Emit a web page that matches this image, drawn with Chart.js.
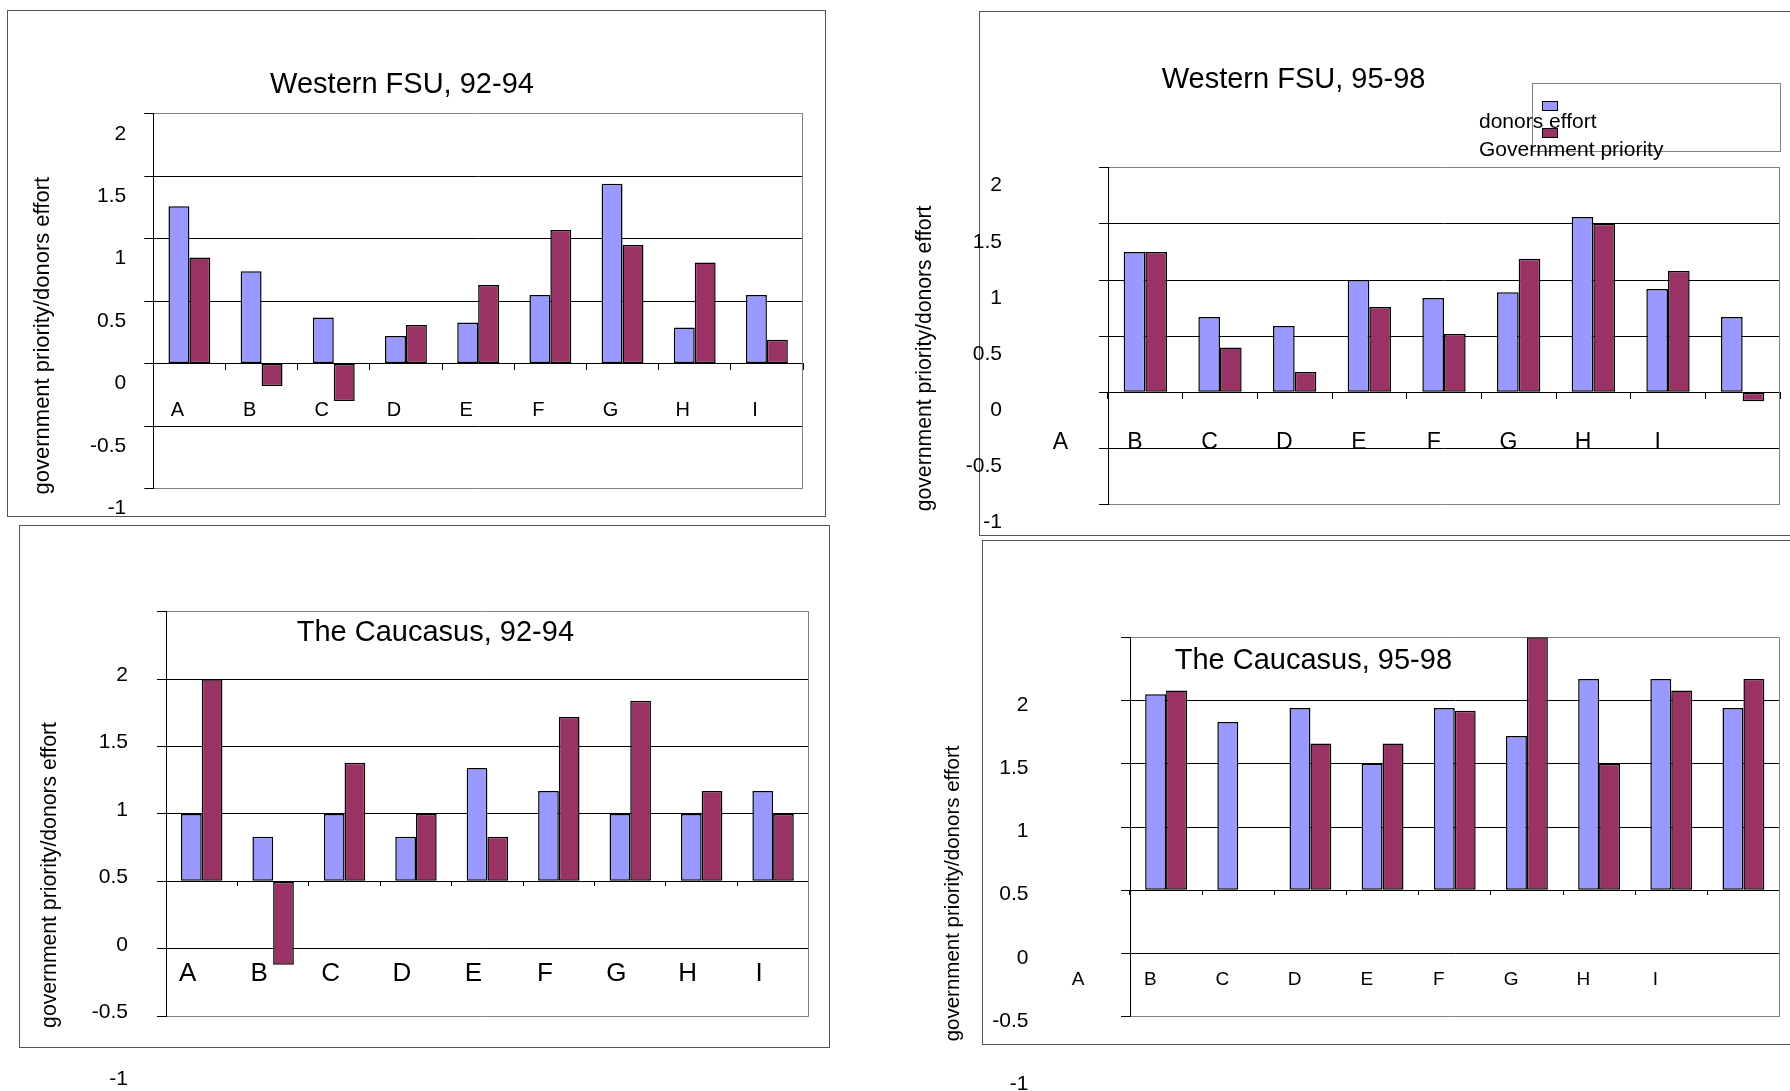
<!DOCTYPE html>
<html>
<head>
<meta charset="utf-8">
<script src="https://cdn.jsdelivr.net/npm/chart.js@4.4.1/dist/chart.umd.min.js"></script>
<style>
  html, body { margin: 0; padding: 0; background: #fff; width: 1790px; height: 1091px; overflow: hidden; position: relative; }
  .frame { position: absolute; border: 1px solid #555; box-sizing: border-box; }
  canvas { position: absolute; }
</style>
</head>
<body>
<div class="frame" style="left:7px;top:10px;width:819px;height:507px"></div>
<div class="frame" style="left:979px;top:11px;width:830px;height:525px"></div>
<div class="frame" style="left:19px;top:525px;width:811px;height:523px"></div>
<div class="frame" style="left:982px;top:540px;width:830px;height:505px"></div>

<canvas id="wfsu9294"></canvas>
<canvas id="wfsu9598"></canvas>
<canvas id="cauc9294"></canvas>
<canvas id="cauc9598"></canvas>

<script>
// ---- data ----
const categories = ['A', 'B', 'C', 'D', 'E', 'F', 'G', 'H', 'I'];
const seriesNames = ['donors effort', 'Government priority'];
const yTickValues = [-1, -0.5, 0, 0.5, 1, 1.5, 2];
const yTickLabels = ['-1', '-0.5', '0', '0.5', '1', '1.5', '2'];

const wfsu9294Donors = [1.26, 0.74, 0.37, 0.22, 0.33, 0.55, 1.44, 0.29, 0.55];
const wfsu9294Gov    = [0.85, -0.18, -0.30, 0.31, 0.63, 1.07, 0.95, 0.81, 0.19];

const wfsu9598Donors = [1.25, 0.67, 0.59, 1.00, 0.84, 0.89, 1.56, 0.92, 0.67];
const wfsu9598Gov    = [1.25, 0.40, 0.18, 0.76, 0.52, 1.19, 1.50, 1.08, -0.08];

const cauc9294Donors = [0.50, 0.33, 0.50, 0.33, 0.84, 0.67, 0.50, 0.50, 0.67];
const cauc9294Gov    = [1.50, -0.62, 0.88, 0.50, 0.33, 1.22, 1.34, 0.67, 0.50];

const cauc9598Donors = [1.55, 1.33, 1.44, 1.00, 1.44, 1.22, 1.67, 1.67, 1.44];
const cauc9598Gov    = [1.58, null, 1.16, 1.16, 1.42, 2.00, 1.00, 1.58, 1.67];

// ---- styling ----
const FAMILY = '"Liberation Sans", Arial, Helvetica, sans-serif';
Chart.defaults.font.family = FAMILY;
Chart.defaults.color = '#000';
const DONOR_COLOR = '#9999FF';
const GOV_COLOR = '#993366';

// gray right-hand edge of the plot area
const plotFrame = {
  id: 'plotFrame',
  beforeDatasetsDraw(chart) {
    const { ctx, chartArea: a } = chart;
    ctx.save();
    ctx.strokeStyle = '#808080';
    ctx.lineWidth = 1;
    const x = Math.round(a.right) - 0.5;
    ctx.beginPath();
    ctx.moveTo(x, a.top);
    ctx.lineTo(x, a.bottom);
    ctx.stroke();
    ctx.restore();
  }
};

// panel heading, rotated value-axis caption and the boxed key
const panelText = {
  id: 'panelText',
  afterDraw(chart, args, o) {
    const ctx = chart.ctx;
    ctx.save();
    ctx.fillStyle = '#000';
    if (o.heading) {
      ctx.font = o.heading.size + 'px ' + FAMILY;
      ctx.textAlign = 'center';
      ctx.textBaseline = 'alphabetic';
      ctx.fillText(o.heading.text, o.heading.x, o.heading.y);
    }
    if (o.axisCaption) {
      ctx.save();
      ctx.translate(o.axisCaption.x, o.axisCaption.y);
      ctx.rotate(-Math.PI / 2);
      ctx.font = o.axisCaption.size + 'px ' + FAMILY;
      ctx.textAlign = 'center';
      ctx.textBaseline = 'middle';
      ctx.fillText(o.axisCaption.text, 0, 0);
      ctx.restore();
    }
    if (o.key) {
      const k = o.key;
      ctx.strokeStyle = '#808080';
      ctx.lineWidth = 1;
      ctx.strokeRect(Math.round(k.box.x1) + 0.5, Math.round(k.box.y1) + 0.5,
                     Math.round(k.box.x2 - k.box.x1), Math.round(k.box.y2 - k.box.y1));
      ctx.font = k.size + 'px ' + FAMILY;
      ctx.textAlign = 'left';
      ctx.textBaseline = 'alphabetic';
      chart.data.datasets.forEach((ds, i) => {
        ctx.fillStyle = '#000';
        ctx.fillText(ds.label, k.textX, k.textY[i]);
      });
      chart.data.datasets.forEach((ds, i) => {
        const sx = Math.round(k.swatchX) + 0.5, sy = Math.round(k.swatchY[i]) + 0.5;
        ctx.fillStyle = ds.backgroundColor;
        ctx.fillRect(sx, sy, k.swatchW, k.swatchH);
        ctx.strokeStyle = '#000';
        ctx.strokeRect(sx, sy, k.swatchW, k.swatchH);
      });
    }
    ctx.restore();
  }
};

function buildPanel(p) {
  const canvas = document.getElementById(p.id);
  const ox = p.canvas.x, oy = p.canvas.y;
  canvas.width = p.canvas.w;
  canvas.height = p.canvas.h;
  canvas.style.left = ox + 'px';
  canvas.style.top = oy + 'px';
  const yWidth = p.area.left - ox;
  const zeroPadding = (s) => { s.paddingLeft = 0; s.paddingRight = 0; s.paddingTop = 0; s.paddingBottom = 0; };

  const pluginOpts = {
    heading: { text: p.heading, x: p.headingAt[0] - ox, y: p.headingAt[1] - oy, size: 29 },
    axisCaption: { text: 'government priority/donors effort', x: p.captionAt[0] - ox, y: p.captionAt[1] - oy, size: p.captionSize }
  };
  if (p.key) {
    pluginOpts.key = {
      box: { x1: p.key.box[0] - ox, y1: p.key.box[1] - oy, x2: p.key.box[2] - ox, y2: p.key.box[3] - oy },
      swatchX: p.key.swatchX - ox,
      swatchY: p.key.swatchY.map(v => v - oy),
      swatchW: 15, swatchH: 9,
      textX: p.key.textX - ox,
      textY: p.key.textY.map(v => v - oy),
      size: 21
    };
  }

  return new Chart(canvas, {
    type: 'bar',
    data: {
      labels: categories,
      datasets: [
        { label: seriesNames[0], data: p.donors, backgroundColor: DONOR_COLOR,
          borderColor: '#000', borderWidth: 1.5, borderSkipped: false },
        { label: seriesNames[1], data: p.gov, backgroundColor: GOV_COLOR,
          borderColor: '#000', borderWidth: 1.5, borderSkipped: false }
      ]
    },
    options: {
      responsive: false,
      animation: false,
      devicePixelRatio: 1,
      events: [],
      layout: {
        padding: {
          left: 0,
          top: p.area.top - oy,
          right: ox + p.canvas.w - p.area.right,
          bottom: oy + p.canvas.h - p.area.bottom
        }
      },
      datasets: { bar: { barPercentage: 1, categoryPercentage: 0.58 } },
      plugins: {
        legend: { display: false },
        tooltip: { enabled: false },
        title: { display: false },
        panelText: pluginOpts
      },
      scales: {
        x: {
          position: { y: 0 },
          offset: true,
          grid: { drawOnChartArea: false, drawTicks: true, tickLength: p.xTick, color: '#000', offset: true },
          border: { display: true, color: '#000', width: 1 },
          ticks: {
            autoSkip: false, maxRotation: 0, minRotation: 0,
            font: { size: p.xFont }, padding: p.xPad, labelOffset: p.xShift, color: '#000'
          },
          afterFit(s) { s.height = 0; zeroPadding(s); }
        },
        y: {
          min: -1,
          max: 2,
          afterBuildTicks(s) { s.ticks = yTickValues.map(v => ({ value: v })); },
          ticks: {
            font: { size: 21 }, padding: p.yPad, labelOffset: p.yShift, color: '#000',
            callback: (v, i) => yTickLabels[i]
          },
          grid: {
            color: (c) => (c.tick && (c.tick.value === 2 || c.tick.value === -1)) ? '#808080' : '#000',
            tickColor: '#000', tickLength: 9, lineWidth: 1
          },
          border: { display: true, color: '#000', width: 1 },
          afterFit(s) { s.width = yWidth; zeroPadding(s); }
        }
      }
    },
    plugins: [plotFrame, panelText]
  });
}

buildPanel({
  id: 'wfsu9294', heading: 'Western FSU, 92-94',
  donors: wfsu9294Donors, gov: wfsu9294Gov,
  canvas: { x: 0, y: 0, w: 880, h: 530 },
  area: { left: 153.3, top: 113.8, right: 803, bottom: 488.5 },
  yShift: 20, yPad: 18, xFont: 20, xPad: 29, xTick: 6, xShift: -12,
  headingAt: [402, 93], captionAt: [43, 335.7], captionSize: 22
});

buildPanel({
  id: 'wfsu9598', heading: 'Western FSU, 95-98',
  donors: wfsu9598Donors, gov: wfsu9598Gov,
  canvas: { x: 900, y: 0, w: 900, h: 620 },
  area: { left: 1108, top: 167.7, right: 1780, bottom: 504.6 },
  yShift: 18, yPad: 97, xFont: 23, xPad: 31, xTick: 6, xShift: -85,
  headingAt: [1293.6, 88], captionAt: [925, 358.4], captionSize: 21.2,
  key: { box: [1531.7, 83.3, 1780, 151.7], swatchX: 1542, swatchY: [100.7, 128.3],
         textX: 1479, textY: [128.3, 156] }
});

buildPanel({
  id: 'cauc9294', heading: 'The Caucasus, 92-94',
  donors: cauc9294Donors, gov: cauc9294Gov,
  canvas: { x: 0, y: 520, w: 880, h: 580 },
  area: { left: 166, top: 611.8, right: 808.8, bottom: 1016 },
  yShift: 63.5, yPad: 29, xFont: 26, xPad: 73, xTick: 4, xShift: -14,
  headingAt: [435.4, 641.3], captionAt: [50, 875], captionSize: 21.2
});

buildPanel({
  id: 'cauc9598', heading: 'The Caucasus, 95-98',
  donors: cauc9598Donors, gov: cauc9598Gov,
  canvas: { x: 900, y: 520, w: 900, h: 580 },
  area: { left: 1130, top: 637.3, right: 1779.5, bottom: 1016.7 },
  yShift: 67.5, yPad: 92.5, xFont: 19, xPad: 74, xTick: 4, xShift: -88,
  headingAt: [1313.4, 668.8], captionAt: [953.3, 893.4], captionSize: 20.5
});
</script>
</body>
</html>
